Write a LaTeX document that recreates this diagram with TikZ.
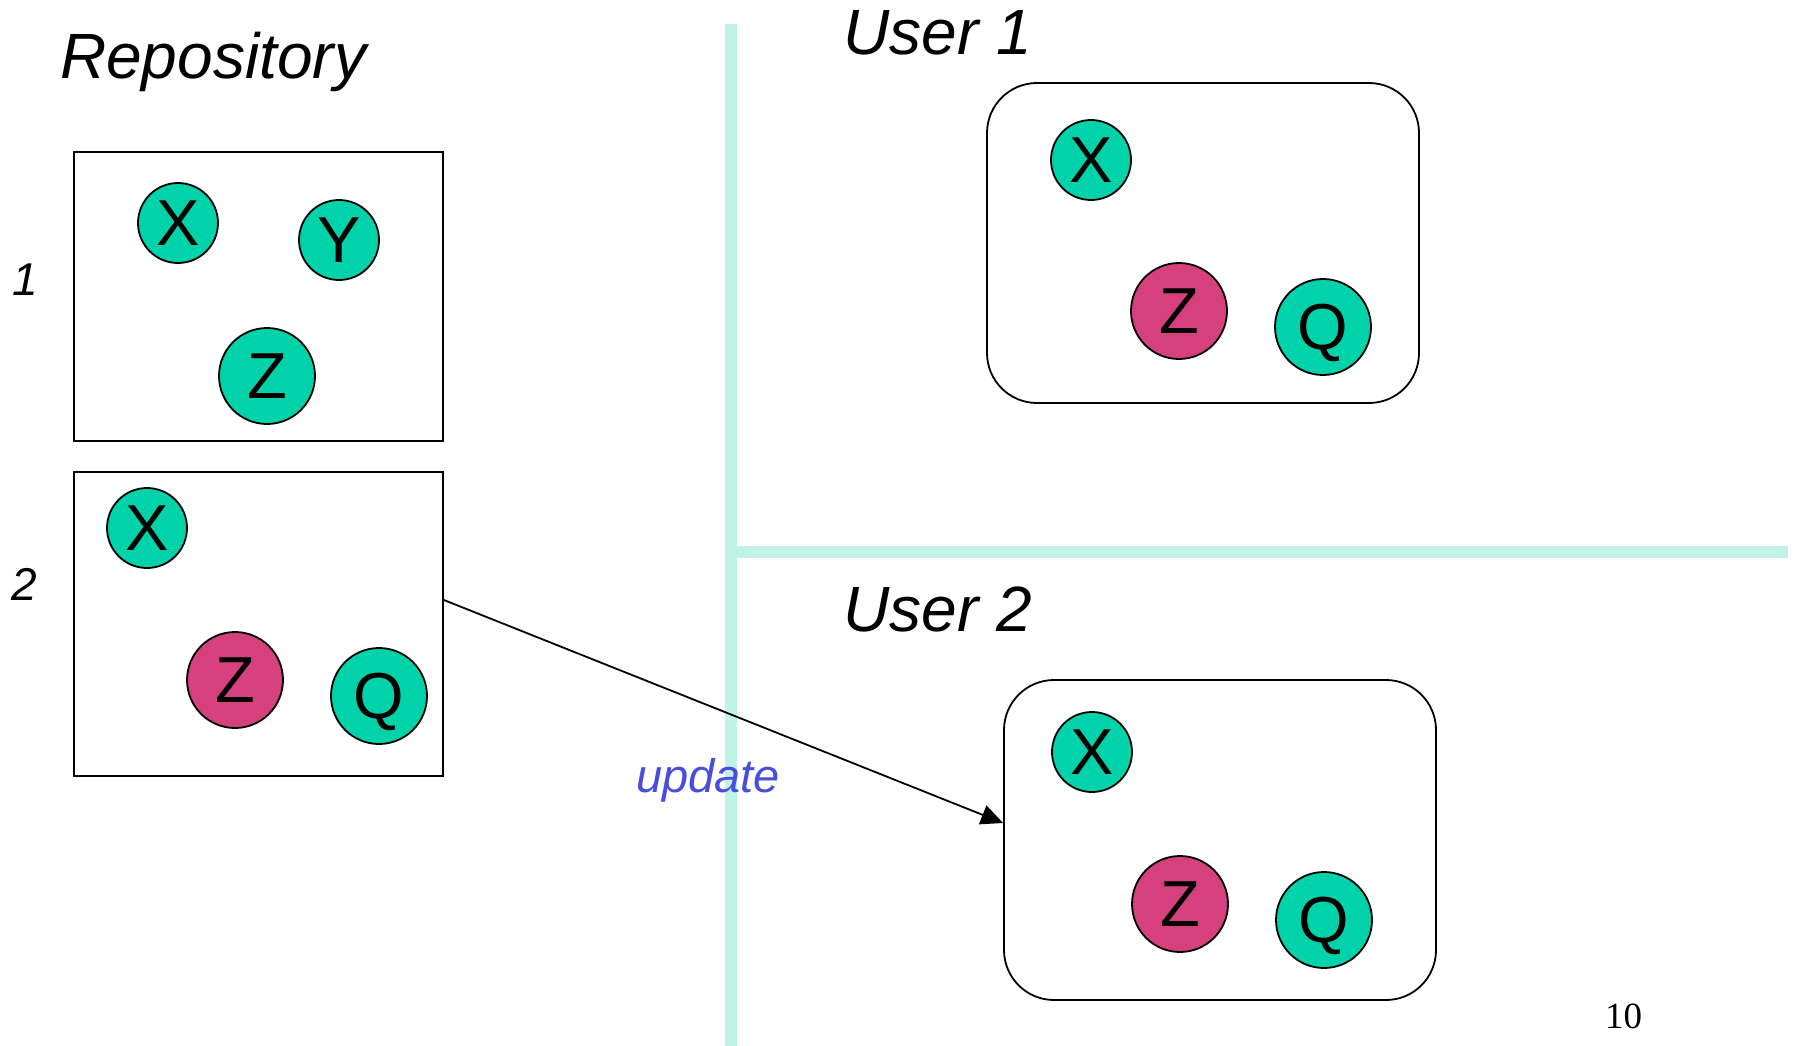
\documentclass[tikz,border=0pt]{standalone}
\usepackage{fontspec}
\setmainfont{Liberation Sans}
\newfontfamily\pagenumfont{Liberation Serif}
\usetikzlibrary{arrows.meta}

\definecolor{itemgreen}{RGB}{0,211,170}
\definecolor{itempink}{RGB}{214,64,127}
\definecolor{divider}{RGB}{192,242,230}
\definecolor{updblue}{RGB}{72,78,220}

\begin{document}
\begin{tikzpicture}[x=1pt,y=-1pt,
  item/.style={circle,draw=black,line width=1.8pt,inner sep=0pt,
    text depth=0pt,font=\fontsize{65}{65}\selectfont},
  smallitem/.style={item,minimum size=80pt},
  bigitem/.style={item,minimum size=96pt},
  green/.style={fill=itemgreen},
  pink/.style={fill=itempink},
  repobox/.style={draw=black,line width=1.8pt,minimum width=369pt,inner sep=0pt},
  userbox/.style={draw=black,line width=1.8pt,rounded corners=50pt,
    minimum width=432pt,minimum height=320pt,inner sep=0pt},
  heading/.style={anchor=base west,inner sep=0pt,
    font=\fontsize{64}{64}\selectfont\itshape},
  revlabel/.style={anchor=base,inner sep=0pt,font=\fontsize{46}{46}\selectfont\itshape},
  divline/.style={draw=divider,line width=12pt}
]
\useasboundingbox (0,0) rectangle (1797,1046);

% dividers between repository and the two users
\draw[divline] (731,24) -- (731,1046);
\draw[divline] (731,552) -- (1788,552);

% headings
\node[heading] (repotitle) at (60,79) {Repository};
\node[heading] (user1title) at (843,55) {User 1};
\node[heading] (user2title) at (843,631) {User 2};

% repository revisions
\node[revlabel] (rev1) at (25,295) {1};
\node[revlabel] (rev2) at (24,600) {2};

\node[repobox,minimum height=289pt] (box1) at (258.5,296.5) {};
\node[smallitem,green] (r1x) at (178,223) {X};
\node[smallitem,green] (r1y) at (339,240) {Y};
\node[bigitem,green] (r1z) at (267,376) {Z};

\node[repobox,minimum height=304pt] (box2) at (258.5,624) {};
\node[smallitem,green] (r2x) at (147,528) {X};
\node[bigitem,pink] (r2z) at (235,680) {Z};
\node[bigitem,green] (r2q) at (379,696) {Q};

% user 1 working copy
\node[userbox] (u1box) at (1203,243) {};
\node[smallitem,green] (u1x) at (1091,160) {X};
\node[bigitem,pink] (u1z) at (1179,311) {Z};
\node[bigitem,green] (u1q) at (1323,327) {Q};

% user 2 working copy
\node[userbox] (u2box) at (1220,840) {};
\node[smallitem,green] (u2x) at (1092,752) {X};
\node[bigitem,pink] (u2z) at (1180,904) {Z};
\node[bigitem,green] (u2q) at (1324,920) {Q};

% update from revision 2 to user 2
\draw[line width=1.8pt,-{Triangle[length=22pt,width=20pt]}]
  ([yshift=24pt]box2.east) -- ([yshift=17pt]u2box.west);
\node[anchor=base west,inner sep=0pt,text=updblue,
  font=\fontsize{47}{47}\selectfont\itshape] (upd) at (636,792) {update};

% page number
\node[anchor=base west,inner sep=0pt,font=\fontsize{37}{37}\pagenumfont] (pagenum) at (1605,1028) {10};
\end{tikzpicture}
\end{document}
